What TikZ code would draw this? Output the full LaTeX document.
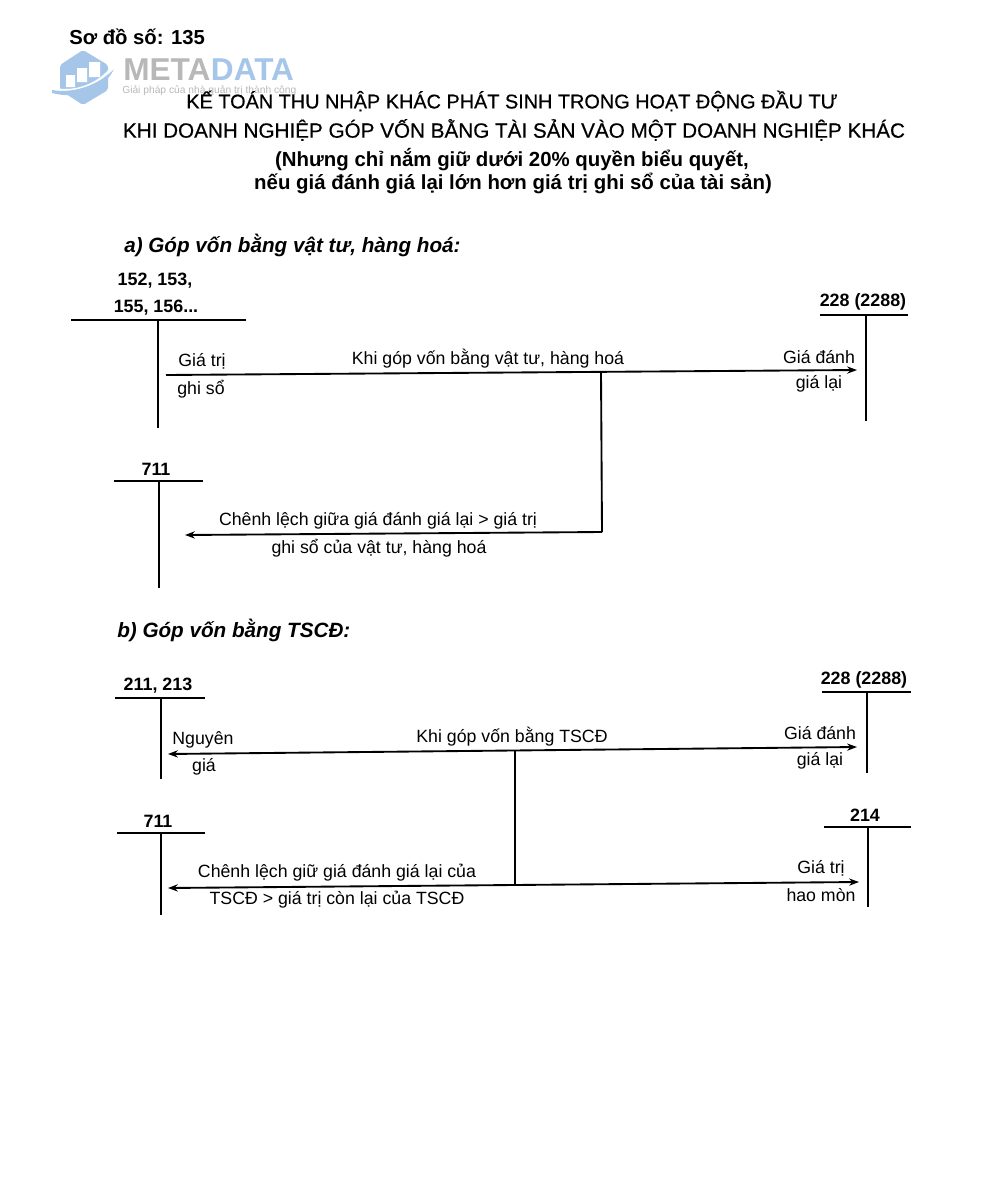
\documentclass[tikz,border=0pt]{standalone}
\usepackage{fontspec}
\setmainfont{Liberation Sans}
\usetikzlibrary{arrows.meta,positioning,calc}
\definecolor{logoblue}{HTML}{A5C6E8}
\definecolor{logogray}{HTML}{B8B8B8}
\begin{document}
\begin{tikzpicture}[
    x=0.75pt, y=-0.75pt,
    lbl/.style={inner sep=0pt, font=\fontsize{13.3}{15}\selectfont},
    acct/.style={inner sep=0pt, font=\fontsize{13.4}{15}\selectfont\bfseries},
    head/.style={inner sep=0pt, font=\fontsize{15.5}{17}\selectfont\addfontfeature{FakeBold=0.5}},
    sub/.style={inner sep=0pt, font=\fontsize{15.3}{17}\selectfont\bfseries},
    part/.style={inner sep=0pt, anchor=west, font=\fontsize{15.5}{17}\selectfont\bfseries\itshape},
    rule/.style={line width=1.2pt},
    link/.style={line width=1.4pt},
    tip/.style={-{Stealth[length=2.6mm,width=1.9mm]}, line width=1.4pt},
    both/.style={{Stealth[length=2.6mm,width=1.9mm]}-{Stealth[length=2.6mm,width=1.9mm]}, line width=1.4pt}
]
\useasboundingbox (0,0) rectangle (996,1200);
% logo
\fill[logoblue, rounded corners=1.5pt] (83,50) -- (108,65) -- (108,90) -- (83,105) -- (60,90) -- (60,65) -- cycle;
\fill[white] (66,75) rectangle (75,87) (77,68) rectangle (87,82) (89,62) rectangle (100,77);
\draw[white, line width=2pt] (60,90) .. controls (78,92) and (98,84) .. (110,70);
\fill[logoblue] (52,90) .. controls (75,94) and (100,84) .. (114,69) .. controls (104,90) and (78,100) .. (52,93) -- cycle;
\node[inner sep=0pt, anchor=west, font=\fontsize{23.7}{24}\selectfont\bfseries, text=logogray] (logoa) at (123,70) {META};
\node[inner sep=0pt, right=0pt of logoa, font=\fontsize{23.7}{24}\selectfont\bfseries, text=logoblue] (logob) {DATA};
\node[inner sep=0pt, anchor=west, font=\fontsize{7.7}{9}\selectfont, text=logogray] (logoc) at (122,91) {Giải pháp của nhà quản trị thành công};
\node[inner sep=0pt, anchor=west, font=\fontsize{15.2}{17}\selectfont\bfseries] (sodo) at (69,37) {Sơ đồ số: 135};
% title
\node[head, font=\fontsize{14.9}{17}\selectfont\addfontfeature{FakeBold=0.5}] (titlea) at (512,101) {KẾ TOÁN THU NHẬP KHÁC PHÁT SINH TRONG HOẠT ĐỘNG ĐẦU TƯ};
\node[head] (titleb) at (514,130) {KHI DOANH NGHIỆP GÓP VỐN BẰNG TÀI SẢN VÀO MỘT DOANH NGHIỆP KHÁC};
\node[sub] (titlec) at (512,160) {(Nhưng chỉ nắm giữ dưới 20\% quyền biểu quyết,};
\node[sub] (titled) at (513,183) {nếu giá đánh giá lại lớn hơn giá trị ghi sổ của tài sản)};
% part a
\node[part] (parta) at (124,245) {a) Góp vốn bằng vật tư, hàng hoá:};
\node[acct] (n152) at (155,281) {152, 153,};
\node[acct] (n155) at (156,308) {155, 156...};
\draw[rule] (71,320) -- (246,320);
\draw[rule] (158,320) -- (158,428);
\node[acct] (n228) at (863,302) {228 (2288)};
\draw[rule] (820,315) -- (908,315);
\draw[rule] (866,315) -- (866,421);
\node[acct] (n711) at (156,469) {711};
\draw[rule] (114,481) -- (203,481);
\draw[rule] (159,481) -- (159,588);
\coordinate (afrom) at (166,375);
\coordinate (ato) at (857,370);
\coordinate (ajoin) at (601,372);
\coordinate (acorner) at (602,532);
\coordinate (aback) at (185,535);
\draw[tip] (afrom) -- (ato);
\draw[link] (ajoin) -- (acorner);
\draw[tip] (acorner) -- (aback);
\node[lbl] (agt) at (202,361) {Giá trị};
\node[lbl] (ags) at (201,389) {ghi sổ};
\node[lbl] (akhi) at (488,359) {Khi góp vốn bằng vật tư, hàng hoá};
\node[lbl] (agd) at (819,357) {Giá đánh};
\node[lbl] (agl) at (819,384) {giá lại};
\node[lbl] (acl) at (378,521) {Chênh lệch giữa giá đánh giá lại > giá trị};
\node[lbl] (aghi) at (379,548) {ghi sổ của vật tư, hàng hoá};
% part b
\node[part] (partb) at (117,630) {b) Góp vốn bằng TSCĐ:};
\node[acct] (n211) at (158,686) {211, 213};
\draw[rule] (115,698) -- (205,698);
\draw[rule] (161,698) -- (161,779);
\node[acct] (m228) at (864,680) {228 (2288)};
\draw[rule] (822,692) -- (911,692);
\draw[rule] (867,692) -- (867,773);
\node[acct] (m711) at (158,821) {711};
\draw[rule] (117,833) -- (205,833);
\draw[rule] (161,833) -- (161,915);
\node[acct] (n214) at (865,815) {214};
\draw[rule] (824,827) -- (911,827);
\draw[rule] (868,827) -- (868,907);
\coordinate (bleft) at (168,754);
\coordinate (bright) at (857,747);
\coordinate (cleft) at (168,888);
\coordinate (cright) at (859,882);
\coordinate (bjoin) at (515,751);
\coordinate (cjoin) at (515,885);
\draw[both] (bleft) -- (bright);
\draw[both] (cleft) -- (cright);
\draw[link] (bjoin) -- (cjoin);
\node[lbl] (bng) at (203,740) {Nguyên};
\node[lbl] (bgia) at (204,767) {giá};
\node[lbl] (bkhi) at (512,737) {Khi góp vốn bằng TSCĐ};
\node[lbl] (bgd) at (820,733) {Giá đánh};
\node[lbl] (bgl) at (820,761) {giá lại};
\node[lbl] (ccl) at (337,873) {Chênh lệch giữ giá đánh giá lại của};
\node[lbl] (ctg) at (337,900) {TSCĐ > giá trị còn lại của TSCĐ};
\node[lbl] (cgt) at (821,868) {Giá trị};
\node[lbl] (chm) at (821,895) {hao mòn};
\end{tikzpicture}
\end{document}
